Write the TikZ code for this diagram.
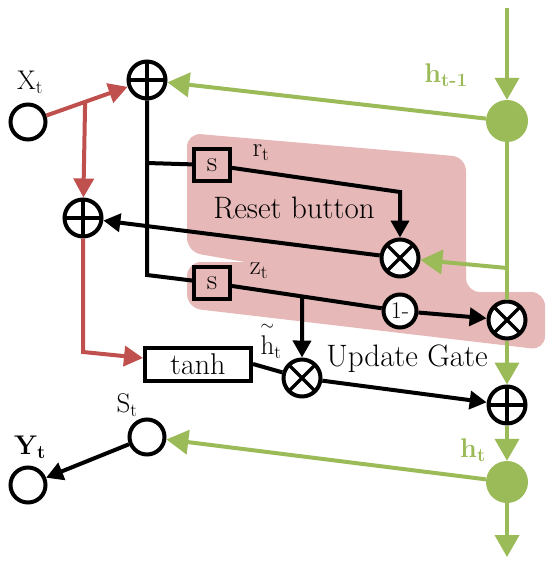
\documentclass[tikz,border=0pt]{standalone}
\usepackage{amsmath}
\usepackage{fontspec}
\usepackage{tikz}
\usetikzlibrary{arrows.meta, calc, positioning}

\definecolor{gatered}{HTML}{C0504D}
\definecolor{gategreen}{HTML}{9BBB59}
\definecolor{gatepink}{HTML}{E6B9B8}

\tikzset{
    unit/.style={circle, draw, line width=4pt, minimum size=35pt, inner sep=0pt, fill=white},
    plusop/.style={unit, minimum size=37pt,
        path picture={\draw[line width=3.5pt] (path picture bounding box.north) -- (path picture bounding box.south)
            (path picture bounding box.west) -- (path picture bounding box.east);}},
    timesop/.style={unit, minimum size=37pt,
        path picture={\draw[line width=3.5pt] (path picture bounding box.south west) -- (path picture bounding box.north east)
            (path picture bounding box.north west) -- (path picture bounding box.south east);}},
    gatebox/.style={draw, line width=4pt, fill=gatepink, minimum width=36pt, minimum height=32pt, inner sep=0pt},
    hdot/.style={circle, fill=gategreen, minimum size=42pt, inner sep=0pt},
    lbl/.style={font=\fontsize{27}{31}\selectfont},
    biglbl/.style={font=\fontsize{31}{35}\selectfont},
    greenlbl/.style={text=gategreen, font=\fontsize{27}{31}\selectfont\bfseries},
    blkline/.style={line width=4pt},
    blkarrow/.style={line width=4pt, -{Triangle[length=17pt,width=18pt]}},
    redarrow/.style={line width=4pt, color=gatered, -{Triangle[length=19pt,width=20pt]}},
    greenline/.style={line width=4pt, draw=gategreen},
    greenarrow/.style={line width=4pt, color=gategreen, -{Triangle[length=22pt,width=24pt]}}
}

\begin{document}
\begin{tikzpicture}[x=1pt, y=-1pt]
    \useasboundingbox (0,0) rectangle (550,569);

    % shaded gate regions
    \fill[gatepink, rounded corners=14pt] (187,133) -- (466,157) -- (466,300) -- (187,252) -- cycle;
    \fill[gatepink, rounded corners=14pt] (187,262) -- (466,262) -- (466,292) -- (545,292) -- (545,350) -- (187,308) -- cycle;

    % inputs and operators
    \node[unit] (xt) at (28,122) {};
    \node[lbl] (xtlbl) at (30,82) {X\textsubscript{t}};
    \node[plusop] (p1) at (147,80) {};
    \node[plusop] (p2) at (83,218) {};
    \node[hdot] (hprev) at (507,121) {};
    \node[greenlbl] (hprevlbl) at (446,75) {h\textsubscript{t-1}};
    \coordinate (htop) at (507,8);

    \node[gatebox] (sr) at (212,165) {\fontsize{29}{33}\selectfont s};
    \node[lbl] (rtlbl) at (261,153) {r\textsubscript{t}};
    \node[gatebox] (sz) at (212,283) {\fontsize{29}{33}\selectfont s};
    \node[lbl] (ztlbl) at (259,271) {z\textsubscript{t}};
    \node[biglbl] (resetlbl) at (294,208) {Reset button};

    \node[timesop] (m1) at (400,258) {};
    \node[unit, minimum size=33pt] (one) at (400,311) {\fontsize{24}{28}\selectfont 1-};
    \node[timesop] (m2) at (507,320) {};

    \node[draw, line width=4pt, fill=white, minimum width=106pt, minimum height=33pt,
        inner sep=0pt] (tanh) at (198,364) {\fontsize{30}{34}\selectfont tanh};
    \node[lbl] (htildelbl) at (271,340) {$\overset{\sim}{\mathrm{h}}$\textsubscript{t}};
    \node[timesop] (m3) at (302,378) {};
    \node[biglbl] (updatelbl) at (407,359) {Update Gate};

    \node[plusop] (p3) at (507,405) {};
    \node[hdot] (ht) at (507,482) {};
    \node[greenlbl] (htlbl) at (473,450) {h\textsubscript{t}};
    \coordinate (hbottom) at (507,557);

    \node[unit] (st) at (147,437) {};
    \node[lbl] (stlbl) at (127,405) {S\textsubscript{t}};
    \node[unit] (yt) at (28,485) {};
    \node[font=\fontsize{27}{31}\selectfont\bfseries] (ytlbl) at (30,447) {Y\textsubscript{t}};

    % red input paths
    \coordinate (xbranch) at ($(xt)!0.48!(p1)$);
    \coordinate (rcorner) at (83,352);
    \draw[redarrow] (xt) -- (p1);
    \draw[redarrow] (xbranch) -- (p2);
    \draw[redarrow] (p2) -- (rcorner) -- ([yshift=6pt]tanh.west);

    % black paths
    \coordinate (rbranch) at (147,163);
    \coordinate (zcorner) at (147,275);
    \coordinate (rtcorner) at (400,192);
    \coordinate (zbranch) at ($(sz)!0.479!(one)$);
    \draw[blkline] (p1) -- (zcorner) -- (sz);
    \draw[blkline] (rbranch) -- (sr);
    \draw[blkarrow] (sr) -- (rtcorner) -- (m1);
    \draw[blkarrow] (m1) -- (p2);
    \draw[blkline] (sz) -- (one);
    \draw[blkarrow] (one) -- (m2);
    \draw[blkarrow] (zbranch) -- (m3);
    \draw[blkline] (tanh.east) -- (m3);
    \draw[blkarrow] (m3) -- (p3);
    \draw[blkarrow] (st) -- (yt);

    % green state paths
    \coordinate (gbranch) at (507,268);
    \draw[greenarrow] (htop) -- (hprev);
    \draw[greenarrow] (hprev) -- (p1);
    \draw[greenline] (hprev) -- (m2);
    \draw[greenarrow] (gbranch) -- (m1);
    \draw[greenarrow] (m2) -- (p3);
    \draw[greenarrow] (p3) -- (ht);
    \draw[greenarrow] (ht) -- (hbottom);
    \draw[greenarrow] (ht) -- (st);
\end{tikzpicture}
\end{document}
